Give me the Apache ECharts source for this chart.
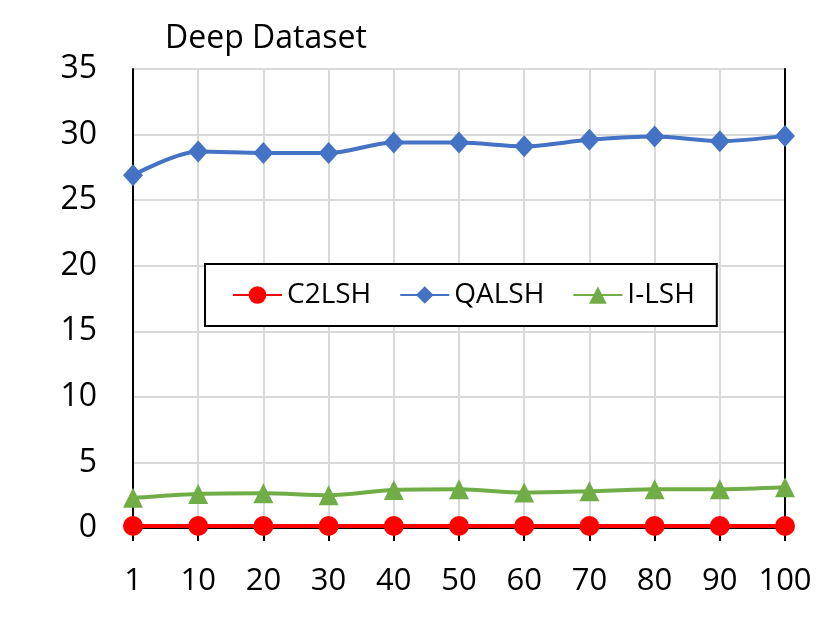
<!DOCTYPE html>
<html><head><meta charset="utf-8">
<script src="https://cdn.jsdelivr.net/npm/echarts@6/dist/echarts.min.js"></script>
<style>html,body{margin:0;padding:0;background:#fff}#c{width:830px;height:629px}</style>
</head><body><div id="c"></div>
<script>
const categories = ['1','10','20','30','40','50','60','70','80','90','100'];
const c2lsh = [0.15,0.15,0.15,0.15,0.15,0.15,0.15,0.15,0.15,0.15,0.15];
const qalsh = [26.9,28.7,28.6,28.6,29.4,29.4,29.1,29.6,29.85,29.5,29.9];
const ilsh = [2.3,2.6,2.65,2.5,2.9,2.95,2.7,2.8,2.95,2.95,3.1];
const yTicks = [0,5,10,15,20,25,30,35];
const font = 'Open Sans';
const chart = echarts.init(document.getElementById('c'));
chart.setOption({
  animation:false,
  textStyle:{fontFamily:font},
  title:{text:'Deep Dataset',left:160,top:18,textStyle:{fontFamily:font,fontSize:32,fontWeight:'normal',color:'#000'}},
  grid:{left:133,right:45,top:69,bottom:101},
  legend:{
    left:205,top:264,
    padding:[17,22,17,27],
    backgroundColor:'#fff',borderColor:'#000',borderWidth:2,
    itemWidth:49,itemHeight:22,itemGap:28,
    textStyle:{fontFamily:font,fontSize:28,color:'#000'},
    data:['C2LSH','QALSH','I-LSH']
  },
  xAxis:[{type:'category',data:categories,boundaryGap:false,
    axisLine:{lineStyle:{color:'#000',width:2}},
    axisTick:{show:true,interval:0,alignWithLabel:true,length:13,lineStyle:{color:'#000',width:2}},
    axisLabel:{interval:0,hideOverlap:false,fontFamily:font,fontSize:31,color:'#000',margin:38},
    splitLine:{show:true,interval:0,lineStyle:{color:'#d9d9d9',width:2}}},
    {type:'category',data:categories,boundaryGap:false,position:'top',
    axisLine:{show:true,lineStyle:{color:'#000',width:2}},
    axisTick:{show:false},axisLabel:{show:false},splitLine:{show:false}}],
  yAxis:[{type:'value',min:0,max:35,interval:5,
    axisLine:{show:true,lineStyle:{color:'#000',width:2}},
    axisTick:{show:false},
    axisLabel:{fontFamily:font,fontSize:32,color:'#000',margin:36,formatter:v=>yTicks.includes(v)?String(v):''},
    splitLine:{show:true,lineStyle:{color:'#d9d9d9',width:2}}},
    {type:'value',min:0,max:35,interval:5,position:'right',
    axisLine:{show:true,lineStyle:{color:'#000',width:2}},
    axisTick:{show:false},axisLabel:{show:false},splitLine:{show:false}}],
  series:[
    {name:'C2LSH',type:'line',data:c2lsh,symbol:'circle',symbolSize:[20,20],smooth:0.3,
      lineStyle:{color:'#ff0000',width:4},itemStyle:{color:'#ff0000'}},
    {name:'QALSH',type:'line',data:qalsh,symbol:'diamond',symbolSize:[20,22],smooth:0.3,
      lineStyle:{color:'#4472c4',width:4},itemStyle:{color:'#4472c4'}},
    {name:'I-LSH',type:'line',data:ilsh,symbol:'triangle',symbolSize:[20,20],smooth:0.3,
      lineStyle:{color:'#70ad47',width:4},itemStyle:{color:'#70ad47'}}
  ]
});
</script></body></html>
